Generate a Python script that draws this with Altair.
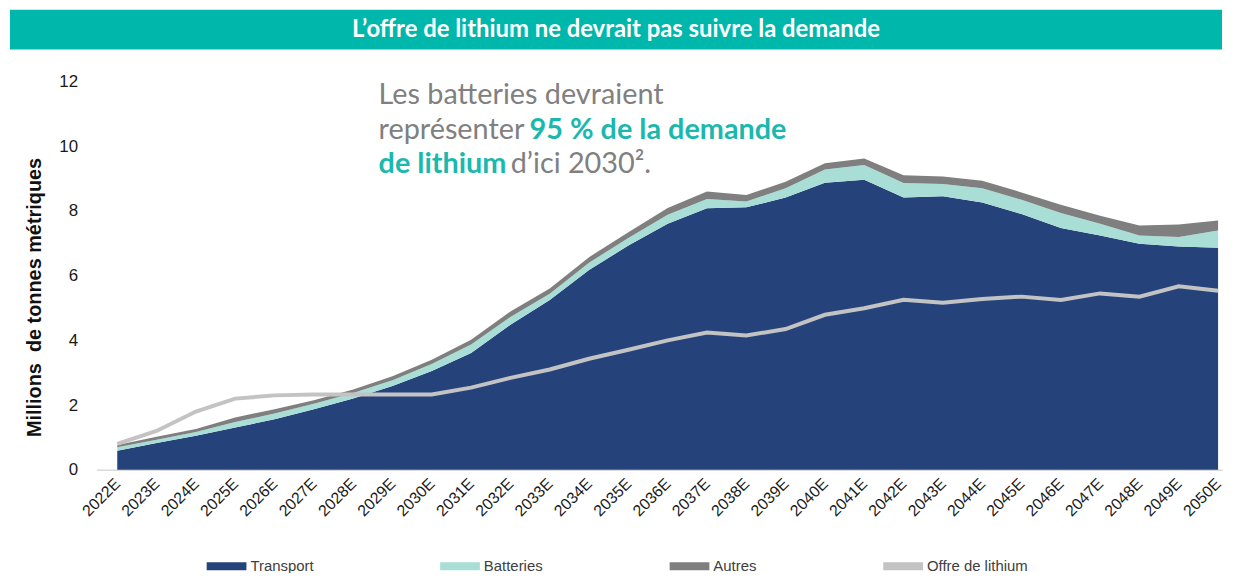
import altair as alt
import pandas as pd

categories = ["2022E", "2023E", "2024E", "2025E", "2026E", "2027E", "2028E", "2029E", "2030E",
              "2031E", "2032E", "2033E", "2034E", "2035E", "2036E", "2037E", "2038E", "2039E",
              "2040E", "2041E", "2042E", "2043E", "2044E", "2045E", "2046E", "2047E", "2048E",
              "2049E", "2050E"]

transport = [0.59, 0.83, 1.05, 1.31, 1.56, 1.87, 2.20, 2.59, 3.05, 3.61, 4.48, 5.25, 6.17, 6.93,
             7.60, 8.08, 8.11, 8.41, 8.87, 8.96, 8.41, 8.45, 8.26, 7.90, 7.47, 7.24, 6.98, 6.90, 6.86]
batteries = [0.11, 0.10, 0.12, 0.17, 0.18, 0.17, 0.17, 0.18, 0.22, 0.26, 0.24, 0.19, 0.23, 0.23,
             0.28, 0.29, 0.18, 0.29, 0.41, 0.46, 0.45, 0.38, 0.44, 0.44, 0.46, 0.36, 0.26, 0.29, 0.53]
autres = [0.07, 0.09, 0.09, 0.14, 0.13, 0.11, 0.11, 0.12, 0.13, 0.15, 0.17, 0.16, 0.17, 0.18,
          0.21, 0.23, 0.20, 0.20, 0.19, 0.20, 0.24, 0.23, 0.23, 0.23, 0.26, 0.25, 0.31, 0.39, 0.31]
offre = [0.80, 1.20, 1.80, 2.20, 2.30, 2.33, 2.33, 2.33, 2.33, 2.54, 2.84, 3.10, 3.43, 3.71,
         4.00, 4.24, 4.15, 4.35, 4.79, 4.99, 5.25, 5.16, 5.28, 5.35, 5.25, 5.45, 5.35, 5.67, 5.53]

series_names = ["Transport", "Batteries", "Autres", "Offre de lithium"]
series_colors = ["#25437A", "#A8DED6", "#7F7F7F", "#C3C3C3"]

title_text = "L\u2019offre de lithium ne devrait pas suivre la demande"
y_title = "Millions\u00a0 de tonnes métriques"

years = [int(c[:4]) for c in categories]

rows = []
for i, y in enumerate(years):
    for name, vals in zip(series_names[:3], [transport, batteries, autres]):
        rows.append({"year": y, "series": name, "value": vals[i], "order": series_names.index(name)})
area_df = pd.DataFrame(rows)
line_df = pd.DataFrame({"year": years, "value": offre, "series": series_names[3]})

W, H = 1133, 391

x_scale = alt.Scale(domain=[2021.47, 2050.1], nice=False, zero=False)
y_scale = alt.Scale(domain=[0, 12], nice=False)

x_axis = alt.Axis(values=years, labelExpr="datum.value + 'E'", labelAngle=-45,
                  labelAlign="right", labelBaseline="middle", labelPadding=11,
                  labelFontSize=16, labelFont="Liberation Sans", labelColor="#1a1a1a",
                  ticks=False, grid=False, domainColor="#D9D9D9", domainWidth=1.5,
                  title=None, labelOverlap=False, labelBound=False)
y_axis = alt.Axis(values=[0, 2, 4, 6, 8, 10, 12], grid=False, domain=False, ticks=False,
                  labelPadding=19, labelFontSize=17, labelFont="Liberation Sans",
                  labelColor="#1a1a1a", title=y_title, titleFontSize=20,
                  titleFont="Liberation Sans", titleFontWeight="bold", titleColor="#111",
                  titleX=-62, titleY=217, titleAlign="center", titleBaseline="middle",
                  titleAngle=270)

color_scale = alt.Scale(domain=series_names, range=series_colors)

areas = alt.Chart(area_df).mark_area(clip=False).encode(
    x=alt.X("year:Q", scale=x_scale, axis=x_axis),
    y=alt.Y("value:Q", stack="zero", scale=y_scale, axis=y_axis),
    color=alt.Color("series:N", scale=color_scale,
                    legend=alt.Legend(orient="none", legendX=111, legendY=468,
                                      direction="horizontal", title=None,
                                      symbolType="M-1,-0.2H1V0.2H-1Z",
                                      symbolSize=1600, symbolStrokeWidth=0,
                                      labelFontSize=15, labelFont="Liberation Sans",
                                      labelColor="#404040", labelOffset=4,
                                      columnPadding=127)),
    order=alt.Order("order:Q", sort="ascending"),
)

line = alt.Chart(line_df).mark_line(strokeWidth=4, clip=False).encode(
    x=alt.X("year:Q", scale=x_scale),
    y=alt.Y("value:Q", scale=y_scale),
    color=alt.Color("series:N", scale=color_scale),
)

banner_df = pd.DataFrame({"t": [title_text]})
banner = alt.Chart(banner_df).mark_rect(color="#00B7AC").encode(
    x=alt.value(-87), x2=alt.value(1133), y=alt.value(-72), y2=alt.value(-32))
banner_text = alt.Chart(banner_df).mark_text(
    font="Lato", fontSize=24, fontWeight="bold", color="white",
    align="center", baseline="middle").encode(
    x=alt.value(523), y=alt.value(-52), text="t:N")

ann_grey = "#808080"
ann_teal = "#1BB8AE"
ann_df = pd.DataFrame({
    "txt": ["Les batteries devraient", "représenter", "95 % de la demande",
            "de lithium", "d\u2019ici 2030\u00b2."],
    "px": [284, 284, 436, 284, 417],
    "py": [23, 58, 58, 92, 92],
    "kind": ["g", "g", "t", "t", "g"],
})
ann_g = alt.Chart(ann_df).transform_filter("datum.kind === 'g'").mark_text(
    font="Lato", fontSize=29, color=ann_grey, align="left", baseline="alphabetic").encode(
    x=alt.X("px:Q", scale=None), y=alt.Y("py:Q", scale=None), text="txt:N")
ann_t = alt.Chart(ann_df).transform_filter("datum.kind === 't'").mark_text(
    font="Lato", fontSize=29, fontWeight="bold", color=ann_teal, align="left",
    baseline="alphabetic").encode(
    x=alt.X("px:Q", scale=None), y=alt.Y("py:Q", scale=None), text="txt:N")

chart = alt.layer(banner, banner_text, areas, line, ann_g, ann_t).properties(
    width=W, height=H,
    padding={"left": 89, "top": 72, "right": 3, "bottom": 102},
    autosize=alt.AutoSizeParams(type="none"),
    background="white",
).configure_view(stroke=None)

chart.save("out.html", embed_options={"renderer": "svg", "actions": False})
